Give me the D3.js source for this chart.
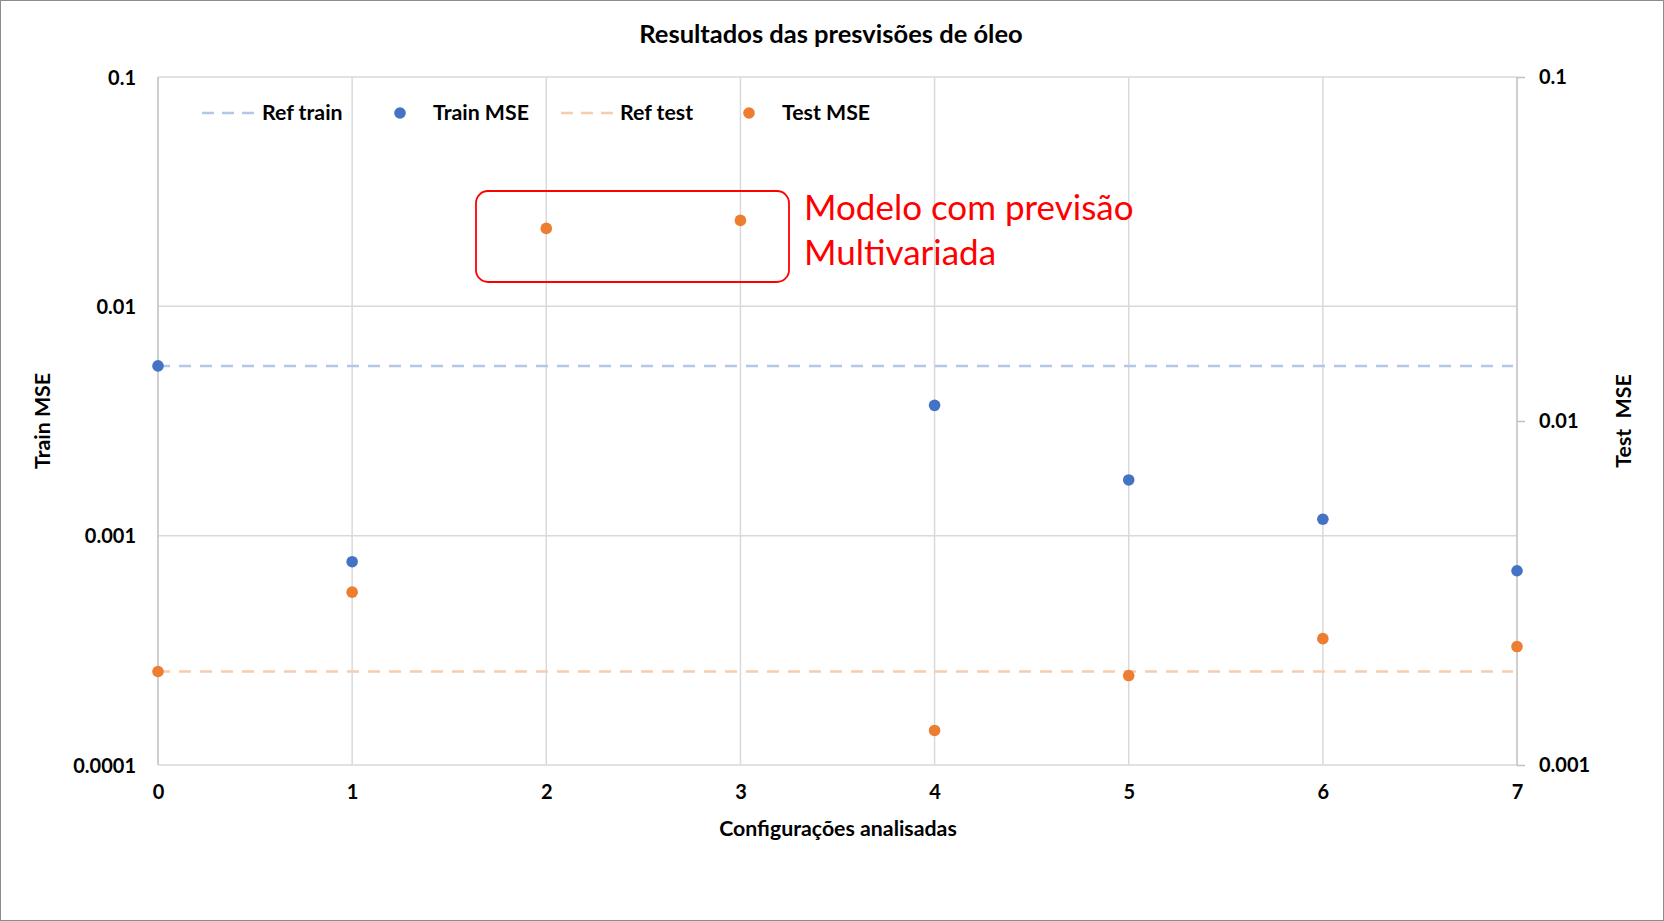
<!DOCTYPE html>
<html>
<head>
<meta charset="utf-8">
<script src="https://cdn.jsdelivr.net/npm/d3@7"></script>
<style>
  html, body { margin: 0; padding: 0; background: #fff; }
  svg { display: block; }
  text { font-family: Lato, "Open Sans", sans-serif; }
</style>
</head>
<body>
<svg id="chart" width="1664" height="921"></svg>
<script>
// ---- data ----
const configs = [0, 1, 2, 3, 4, 5, 6, 7];
const trainMSE = [0.0055, 0.00077, null, null, 0.0037, 0.00175, 0.00118, 0.000703];
const testMSE  = [0.00187, 0.00318, 0.0363, 0.0383, 0.00126, 0.00182, 0.00233, 0.00221];
const refTrain = 0.0055;
const refTest  = 0.00187;
const leftTicks  = [0.0001, 0.001, 0.01, 0.1];
const rightTicks = [0.001, 0.01, 0.1];
const xTicks = [0, 1, 2, 3, 4, 5, 6, 7];
const legendItems = ["Ref train", "Train MSE", "Ref test", "Test MSE"];
const titleText = "Resultados das presvisões de óleo";
const xTitle = "Configurações analisadas";
const yLeftTitle = "Train MSE";
const yRightTitle = "Test  MSE";
const noteLines = ["Modelo com previsão", "Multivariada"];

// ---- layout ----
const W = 1664, H = 921;
const L = 158, R = 1517, T = 77, B = 765;
const blue = "#4472c4", orange = "#ed7d31";
const blueLight = "#b4c7e7", orangeLight = "#f8cbad";
const labelSize = 21.3;

const svg = d3.select("#chart");

const x = d3.scaleLinear().domain([0, 7]).range([L, R]);
const yL = d3.scaleLog().domain([0.0001, 0.1]).range([B, T]);
const yR = d3.scaleLog().domain([0.001, 0.1]).range([B, T]);

// outer border
svg.append("rect").attr("x", 0.5).attr("y", 0.5).attr("width", W - 1).attr("height", H - 1)
  .attr("fill", "#fff").attr("stroke", "#8c8c8c").attr("stroke-width", 1);

// title
svg.append("text").attr("x", 831).attr("y", 33).attr("text-anchor", "middle")
  .attr("dominant-baseline", "central").attr("font-size", 25.5).attr("font-weight", 700)
  .attr("fill", "#000").text(titleText);

// gridlines: horizontal (left axis)
const grid = svg.append("g");
grid.selectAll("line.h").data(leftTicks.filter(d => d > 0.0001)).join("line")
  .attr("x1", L).attr("x2", R).attr("y1", d => yL(d)).attr("y2", d => yL(d))
  .attr("stroke", "#d9d9d9").attr("stroke-width", 1.5);
// vertical gridlines
grid.selectAll("line.v").data(xTicks.filter(d => d > 0 && d < 7)).join("line")
  .attr("x1", d => x(d)).attr("x2", d => x(d)).attr("y1", T).attr("y2", B)
  .attr("stroke", "#d9d9d9").attr("stroke-width", 1.5);

// axes lines
const axisCol = "#bfbfbf";
svg.append("line").attr("x1", L).attr("x2", L).attr("y1", T).attr("y2", B)
  .attr("stroke", axisCol).attr("stroke-width", 1.5);
svg.append("line").attr("x1", L).attr("x2", R).attr("y1", B).attr("y2", B)
  .attr("stroke", "#d9d9d9").attr("stroke-width", 1.5);
// right axis with ticks
const rightAxis = d3.axisRight(yR).tickValues(rightTicks).tickSize(8).tickFormat(() => "");
const gR = svg.append("g").attr("transform", `translate(${R},0)`).call(rightAxis);
gR.select(".domain").attr("stroke", axisCol).attr("stroke-width", 1.5).attr("d", `M0,${T}V${B}`);
gR.selectAll(".tick line").attr("stroke", axisCol).attr("stroke-width", 1.5);

// left axis labels
const leftAxis = d3.axisLeft(yL).tickValues(leftTicks).tickSize(0).tickPadding(22)
  .tickFormat(d => String(d));
const gL = svg.append("g").attr("transform", `translate(${L},0)`).call(leftAxis);
gL.select(".domain").remove();
gL.selectAll(".tick text").attr("font-family", "Lato").attr("font-size", 20)
  .attr("font-weight", 700).attr("fill", "#000").attr("dy", "0.35em");

// right axis labels
gR.selectAll(".tick text").remove();
svg.append("g").selectAll("text").data(rightTicks).join("text")
  .attr("x", 1539).attr("y", d => yR(d)).attr("dy", "0.35em")
  .attr("font-size", 20).attr("font-weight", 700).attr("fill", "#000")
  .text(d => String(d));

// x axis labels
const bottomAxis = d3.axisBottom(x).tickValues(xTicks).tickSize(0).tickPadding(20)
  .tickFormat(d3.format("d"));
const gB = svg.append("g").attr("transform", `translate(0,${B})`).call(bottomAxis);
gB.select(".domain").remove();
gB.selectAll(".tick text").attr("font-family", "Lato").attr("font-size", 20)
  .attr("font-weight", 700).attr("fill", "#000");

// axis titles
svg.append("text").attr("x", 838).attr("y", 828).attr("text-anchor", "middle")
  .attr("dominant-baseline", "central").attr("font-size", labelSize).attr("font-weight", 700)
  .text(xTitle);
svg.append("text").attr("transform", `translate(42,${(T + B) / 2}) rotate(-90)`)
  .attr("text-anchor", "middle").attr("dominant-baseline", "central")
  .attr("font-size", labelSize).attr("font-weight", 700).text(yLeftTitle);
svg.append("text").attr("transform", `translate(1623,${(T + B) / 2}) rotate(-90)`)
  .attr("text-anchor", "middle").attr("dominant-baseline", "central")
  .attr("font-size", labelSize).attr("font-weight", 700).attr("xml:space", "preserve")
  .style("white-space", "pre").text(yRightTitle);

// reference lines
svg.append("line").attr("x1", L).attr("x2", R - 4).attr("y1", yL(refTrain)).attr("y2", yL(refTrain))
  .attr("stroke", blueLight).attr("stroke-width", 2.5).attr("stroke-dasharray", "12 9");
svg.append("line").attr("x1", L).attr("x2", R - 4).attr("y1", yR(refTest)).attr("y2", yR(refTest))
  .attr("stroke", orangeLight).attr("stroke-width", 2.5).attr("stroke-dasharray", "12 9");

// points
svg.append("g").selectAll("circle").data(configs.filter((c, i) => trainMSE[i] != null)).join("circle")
  .attr("cx", d => x(d)).attr("cy", d => yL(trainMSE[d])).attr("r", 5.8).attr("fill", blue);
svg.append("g").selectAll("circle").data(configs.filter((c, i) => testMSE[i] != null)).join("circle")
  .attr("cx", d => x(d)).attr("cy", d => yR(testMSE[d])).attr("r", 5.8).attr("fill", orange);

// legend
const ly = 113;
const lg = svg.append("g");
lg.append("line").attr("x1", 202).attr("x2", 254).attr("y1", ly).attr("y2", ly)
  .attr("stroke", blueLight).attr("stroke-width", 2.5).attr("stroke-dasharray", "12 8");
lg.append("text").attr("x", 262).attr("y", ly).attr("dy", "0.35em").attr("font-size", labelSize)
  .attr("font-weight", 700).text(legendItems[0]);
lg.append("circle").attr("cx", 400).attr("cy", ly).attr("r", 5.8).attr("fill", blue);
lg.append("text").attr("x", 433).attr("y", ly).attr("dy", "0.35em").attr("font-size", labelSize)
  .attr("font-weight", 700).text(legendItems[1]);
lg.append("line").attr("x1", 561).attr("x2", 613).attr("y1", ly).attr("y2", ly)
  .attr("stroke", orangeLight).attr("stroke-width", 2.5).attr("stroke-dasharray", "12 8");
lg.append("text").attr("x", 620).attr("y", ly).attr("dy", "0.35em").attr("font-size", labelSize)
  .attr("font-weight", 700).text(legendItems[2]);
lg.append("circle").attr("cx", 749).attr("cy", ly).attr("r", 5.8).attr("fill", orange);
lg.append("text").attr("x", 782).attr("y", ly).attr("dy", "0.35em").attr("font-size", labelSize)
  .attr("font-weight", 700).text(legendItems[3]);

// annotation
svg.append("rect").attr("x", 476).attr("y", 191).attr("width", 313).attr("height", 91)
  .attr("rx", 12).attr("ry", 12).attr("fill", "none").attr("stroke", "#ff0000").attr("stroke-width", 1.8);
svg.append("g").selectAll("text").data(noteLines).join("text")
  .attr("x", 804).attr("y", (d, i) => 208 + i * 45).attr("dy", "0.35em")
  .attr("font-size", 35).attr("fill", "#ff0000").text(d => d);
</script>
</body>
</html>
